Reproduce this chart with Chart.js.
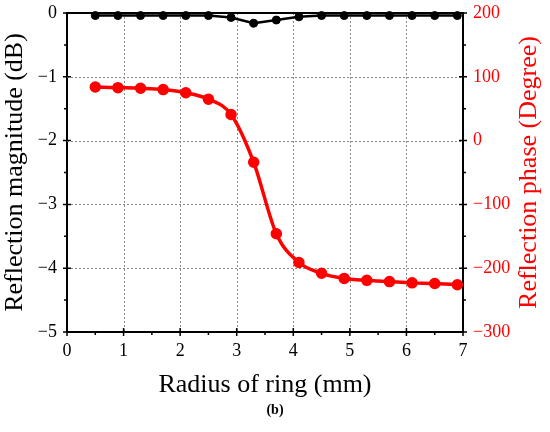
<!DOCTYPE html>
<html>
<head>
<meta charset="utf-8">
<script src="https://cdn.jsdelivr.net/npm/chart.js@4/dist/chart.umd.min.js"></script>
<style>
  html, body { margin: 0; padding: 0; background: #fff; }
  #wrap { width: 550px; height: 432px; }
</style>
</head>
<body>
<div id="wrap"><canvas id="chart" width="550" height="432"></canvas></div>
<script>
const radius = [0.5, 0.9, 1.3, 1.7, 2.1, 2.5, 2.9, 3.3, 3.7, 4.1, 4.5, 4.9, 5.3, 5.7, 6.1, 6.5, 6.9];
const magnitude = [-0.04, -0.04, -0.04, -0.04, -0.04, -0.04, -0.07, -0.16, -0.11, -0.06, -0.04, -0.04, -0.04, -0.04, -0.04, -0.04, -0.04];
const phase = [84, 83, 82, 80, 75, 65, 41, -34, -146, -191, -208, -216, -219, -221, -223, -224, -226];

const xTicks = [0, 1, 2, 3, 4, 5, 6, 7];
const xMinor = [0.5, 1.5, 2.5, 3.5, 4.5, 5.5, 6.5];
const magTicks = [-5, -4, -3, -2, -1, 0];
const magMinor = [-4.5, -3.5, -2.5, -1.5, -0.5];
const phaseTicks = [-300, -200, -100, 0, 100, 200];
const phaseMinor = [-250, -150, -50, 50, 150];

const serif = "'Liberation Serif', 'DejaVu Serif', serif";
const minus = v => (v < 0 ? "\u2212" + Math.abs(v) : String(v));

// dotted grid under the data
const dottedGrid = {
  id: "dottedGrid",
  beforeDatasetsDraw(chart) {
    const { ctx, chartArea: a, scales } = chart;
    ctx.save();
    ctx.strokeStyle = "#8a8a8a";
    ctx.lineWidth = 1;
    ctx.setLineDash([2, 2]);
    ctx.beginPath();
    xTicks.slice(1, -1).forEach(v => {
      const p = Math.round(scales.x.getPixelForValue(v)) + 0.5;
      ctx.moveTo(p, a.top); ctx.lineTo(p, a.bottom);
    });
    magTicks.slice(1, -1).forEach(v => {
      const p = Math.round(scales.y.getPixelForValue(v)) + 0.5;
      ctx.moveTo(a.left, p); ctx.lineTo(a.right, p);
    });
    ctx.stroke();
    ctx.restore();
  }
};

// major ticks cross the axis, minor ticks point outward; also the top frame line
const axisTicks = {
  id: "axisTicks",
  afterDraw(chart) {
    const { ctx, chartArea: a, scales } = chart;
    ctx.save();
    ctx.strokeStyle = "#000";
    ctx.lineWidth = 1.5;
    ctx.beginPath();
    xTicks.forEach(v => {
      const p = scales.x.getPixelForValue(v);
      ctx.moveTo(p, a.bottom - 4); ctx.lineTo(p, a.bottom + 4);
    });
    xMinor.forEach(v => {
      const p = scales.x.getPixelForValue(v);
      ctx.moveTo(p, a.bottom); ctx.lineTo(p, a.bottom + 3);
    });
    magTicks.forEach(v => {
      const p = scales.y.getPixelForValue(v);
      ctx.moveTo(a.left - 4, p); ctx.lineTo(a.left + 4, p);
    });
    magMinor.forEach(v => {
      const p = scales.y.getPixelForValue(v);
      ctx.moveTo(a.left - 3, p); ctx.lineTo(a.left, p);
    });
    phaseTicks.forEach(v => {
      const p = scales.y2.getPixelForValue(v);
      ctx.moveTo(a.right - 4, p); ctx.lineTo(a.right + 4, p);
    });
    phaseMinor.forEach(v => {
      const p = scales.y2.getPixelForValue(v);
      ctx.moveTo(a.right, p); ctx.lineTo(a.right + 3, p);
    });
    ctx.stroke();
    ctx.lineWidth = 2;
    ctx.beginPath();
    ctx.moveTo(a.left - 1, a.top); ctx.lineTo(a.right + 1, a.top);
    ctx.stroke();

    // right axis title reads bottom to top
    ctx.fillStyle = "#ff0000";
    ctx.font = "26px " + serif;
    ctx.textAlign = "center";
    ctx.textBaseline = "middle";
    ctx.translate(529, (a.top + a.bottom) / 2);
    ctx.rotate(-Math.PI / 2);
    ctx.fillText("Reflection phase (Degree)", 0, 0);
    ctx.restore();
  }
};

new Chart(document.getElementById("chart"), {
  type: "line",
  data: {
    datasets: [
      {
        label: "Magnitude",
        data: radius.map((r, i) => ({ x: r, y: magnitude[i] })),
        yAxisID: "y",
        borderColor: "#000",
        backgroundColor: "#000",
        borderWidth: 2.5,
        pointRadius: 4,
        pointBorderWidth: 1,
        tension: 0,
        clip: 8
      },
      {
        label: "Phase",
        data: radius.map((r, i) => ({ x: r, y: phase[i] })),
        yAxisID: "y2",
        borderColor: "#ff0000",
        backgroundColor: "#ff0000",
        borderWidth: 3.5,
        pointRadius: 5,
        pointBorderWidth: 1.5,
        cubicInterpolationMode: "monotone",
        clip: 8
      }
    ]
  },
  options: {
    responsive: false,
    animation: false,
    devicePixelRatio: 1,
    layout: { padding: { top: 13, left: 0, right: 0, bottom: 0 } },
    plugins: {
      legend: { display: false },
      tooltip: { enabled: false },
      title: {
        display: true,
        text: "(b)",
        position: "bottom",
        color: "#000",
        font: { family: serif, size: 14, weight: "bold" },
        padding: { top: 0, bottom: 13 }
      }
    },
    scales: {
      x: {
        type: "linear",
        min: 0,
        max: 7,
        afterBuildTicks: s => { s.ticks = xTicks.map(v => ({ value: v })); },
        afterFit: s => { s.height = 70.2; s.paddingLeft = 0; s.paddingRight = 0; },
        grid: { display: false, drawTicks: false },
        border: { color: "#000", width: 2 },
        ticks: {
          color: "#000",
          font: { family: serif, size: 18 },
          padding: 8,
          maxRotation: 0
        },
        title: {
          display: true,
          text: "Radius of ring (mm)",
          color: "#000",
          font: { family: serif, size: 26 },
          padding: { top: 0, bottom: 1 }
        }
      },
      y: {
        type: "linear",
        position: "left",
        min: -5,
        max: 0,
        afterBuildTicks: s => { s.ticks = magTicks.map(v => ({ value: v })); },
        afterFit: s => { s.width = 67; s.paddingTop = 0; s.paddingBottom = 0; },
        grid: { display: false, drawTicks: false },
        border: { color: "#000", width: 2 },
        ticks: {
          color: "#000",
          font: { family: serif, size: 18 },
          padding: 10,
          callback: v => minus(v)
        },
        title: {
          display: true,
          text: "Reflection magnitude (dB)",
          color: "#000",
          font: { family: serif, size: 26 },
          padding: { top: 0, bottom: 0 }
        }
      },
      y2: {
        type: "linear",
        position: "right",
        min: -300,
        max: 200,
        afterBuildTicks: s => { s.ticks = phaseTicks.map(v => ({ value: v })); },
        afterFit: s => { s.width = 87; s.paddingTop = 0; s.paddingBottom = 0; },
        grid: { display: false, drawTicks: false },
        border: { color: "#000", width: 2 },
        ticks: {
          color: "#ff0000",
          font: { family: serif, size: 18 },
          padding: 10,
          callback: v => minus(v)
        }
      }
    }
  },
  plugins: [dottedGrid, axisTicks]
});
</script>
</body>
</html>
